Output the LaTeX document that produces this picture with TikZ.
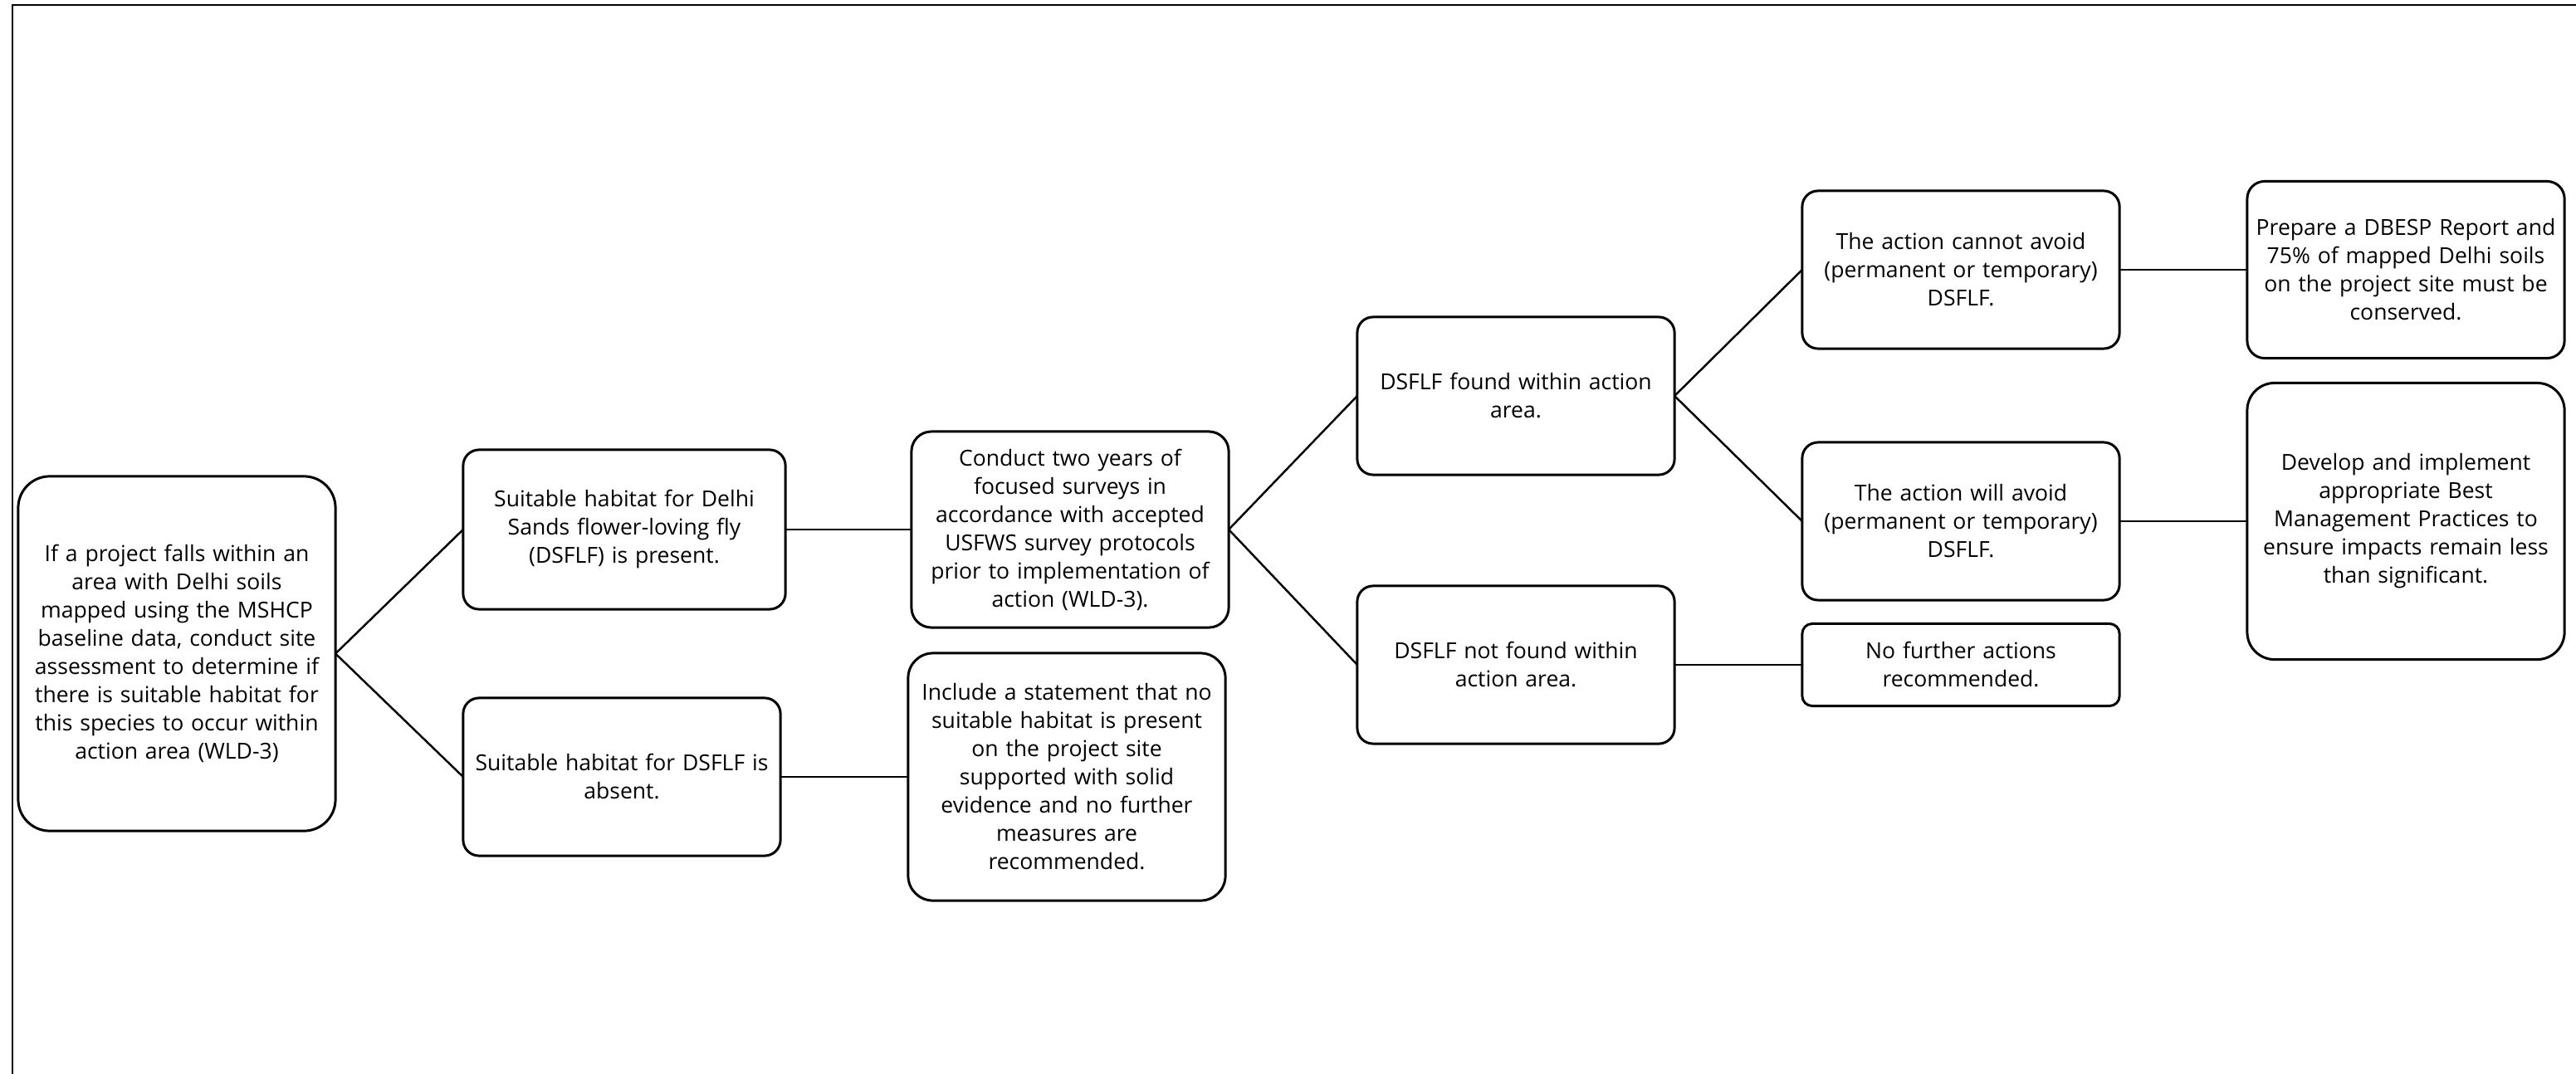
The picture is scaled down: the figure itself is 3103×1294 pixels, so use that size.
\documentclass[tikz,border=0pt]{standalone}
\usepackage{fontspec}
\setmainfont{Open Sans}
\begin{document}
\begin{tikzpicture}[x=0.01cm,y=-0.01cm,
  box/.style={draw, line width=0.85pt, align=center, inner sep=0pt, outer sep=0pt,
    text width=3.82cm, minimum width=3.82cm,
    font=\fontsize{7.55}{9.67}\selectfont},
  link/.style={line width=0.7pt},
  frame/.style={line width=0.7pt}]
\useasboundingbox (0,0) rectangle (3103,1294);

% page frame: only its top and left edges fall on the sheet
\coordinate (ftr) at (3103,6);
\coordinate (ftl) at (15,6);
\coordinate (fbl) at (15,1294);
\draw[frame] (ftr) -- (ftl) -- (fbl);

% column 1
\node[box, minimum height=4.27cm, rounded corners=0.38cm] (root) at (213,787.5)
  {If a project falls within an\\ area with Delhi soils\\ mapped using the MSHCP\\ baseline data, conduct site\\ assessment to determine if\\ there is suitable habitat for\\ this species to occur within\\ action area (WLD-3)};

% column 2
\node[box, minimum width=3.88cm, text width=3.88cm, minimum height=1.92cm, rounded corners=0.19cm] (present) at (752,638)
  {Suitable habitat for Delhi\\ Sands flower-loving fly\\ (DSFLF) is present.};
\node[box, minimum height=1.90cm, rounded corners=0.19cm] (absent) at (749,936)
  {Suitable habitat for DSFLF is\\ absent.};

% column 3
\node[box, minimum height=2.36cm, rounded corners=0.24cm] (survey) at (1289,638)
  {Conduct two years of\\ focused surveys in\\ accordance with accepted\\ USFWS survey protocols\\ prior to implementation of\\ action (WLD-3).};
\node[box, minimum height=2.98cm, rounded corners=0.30cm] (statement) at (1285,936)
  {Include a statement that no\\ suitable habitat is present\\ on the project site\\ supported with solid\\ evidence and no further\\ measures are\\ recommended.};

% column 4
\node[box, minimum height=1.90cm, rounded corners=0.19cm] (found) at (1826,477)
  {DSFLF found within action\\ area.};
\node[box, minimum height=1.90cm, rounded corners=0.19cm] (notfound) at (1826,801)
  {DSFLF not found within\\ action area.};

% column 5
\node[box, minimum height=1.90cm, rounded corners=0.19cm] (cannot) at (2362,325)
  {The action cannot avoid\\ (permanent or temporary)\\ DSFLF.};
\node[box, minimum height=1.90cm, rounded corners=0.19cm] (will) at (2362,628)
  {The action will avoid\\ (permanent or temporary)\\ DSFLF.};
\node[box, minimum height=0.99cm, rounded corners=0.12cm] (nofurther) at (2362,801)
  {No further actions\\ recommended.};

% column 6
\node[box, minimum height=2.13cm, rounded corners=0.21cm] (dbesp) at (2898,325)
  {Prepare a DBESP Report and\\ 75\% of mapped Delhi soils\\ on the project site must be\\ conserved.};
\node[box, minimum height=3.33cm, rounded corners=0.33cm] (bmp) at (2898,628)
  {Develop and implement\\ appropriate Best\\ Management Practices to\\ ensure impacts remain less\\ than significant.};

% connectors
\draw[link] (root.east) -- (present.west);
\draw[link] (root.east) -- (absent.west);
\draw[link] (present.east) -- (survey.west);
\draw[link] (absent.east) -- (statement.west);
\draw[link] (survey.east) -- (found.west);
\draw[link] (survey.east) -- (notfound.west);
\draw[link] (found.east) -- (cannot.west);
\draw[link] (found.east) -- (will.west);
\draw[link] (notfound.east) -- (nofurther.west);
\draw[link] (cannot.east) -- (dbesp.west);
\draw[link] (will.east) -- (bmp.west);
\end{tikzpicture}
\end{document}
